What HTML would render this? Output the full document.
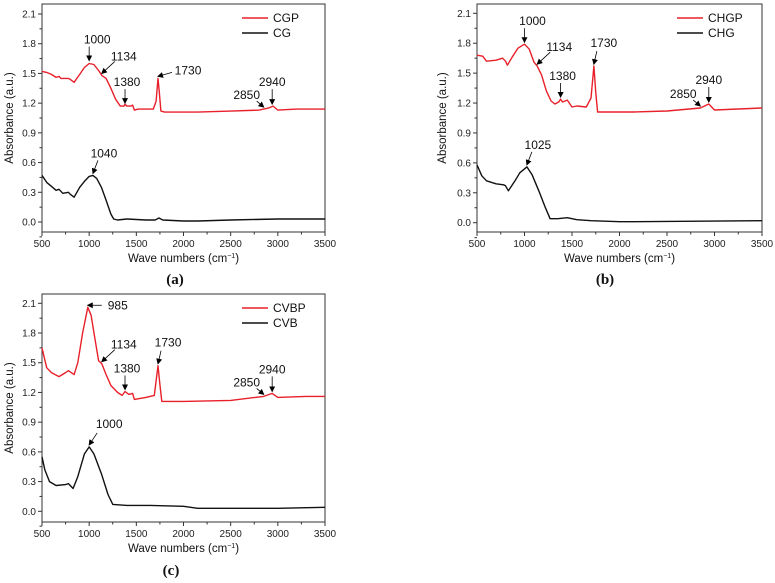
<!DOCTYPE html>
<html><head><meta charset="utf-8"><style>
body{margin:0;background:#fff;}
svg{display:block;font-family:"Liberation Sans",sans-serif;}
</style></head><body>
<svg id="chart" width="775" height="583" viewBox="0 0 775 583"></svg>
<script>
const xTicks=[500,1000,1500,2000,2500,3000,3500];
const yTicks=[0.0,0.3,0.6,0.9,1.2,1.5,1.8,2.1];
const yTickLabels=["0.0","0.3","0.6","0.9","1.2","1.5","1.8","2.1"];
// Panel a
const cgpX=[500,550,600,650,680,700,780,800,840,900,950,1000,1050,1100,1134,1180,1230,1280,1330,1370,1380,1400,1440,1460,1480,1520,1600,1680,1710,1730,1745,1760,1800,2000,2150,2500,2800,2900,2950,3000,3200,3500];
const cgpY=[1.52,1.51,1.49,1.46,1.47,1.45,1.45,1.44,1.41,1.49,1.56,1.60,1.59,1.53,1.48,1.45,1.35,1.24,1.17,1.17,1.19,1.17,1.17,1.18,1.13,1.14,1.14,1.14,1.22,1.45,1.30,1.12,1.11,1.11,1.11,1.12,1.13,1.15,1.17,1.13,1.14,1.14];
const cgX=[500,550,600,650,680,720,780,800,840,900,950,1000,1040,1080,1130,1180,1230,1260,1300,1400,1600,1700,1740,1780,2000,2150,2500,3000,3500];
const cgY=[0.47,0.40,0.36,0.32,0.33,0.29,0.30,0.28,0.25,0.35,0.41,0.46,0.47,0.44,0.35,0.22,0.08,0.03,0.02,0.03,0.02,0.02,0.04,0.02,0.01,0.01,0.02,0.03,0.03];
// Panel b
const chgpX=[500,560,600,700,770,800,820,870,930,1000,1050,1100,1134,1180,1230,1280,1320,1360,1380,1400,1450,1500,1550,1650,1700,1730,1750,1770,1900,2150,2500,2850,2940,3000,3500];
const chgpY=[1.68,1.67,1.62,1.63,1.65,1.62,1.58,1.66,1.75,1.79,1.74,1.61,1.57,1.48,1.32,1.22,1.19,1.21,1.24,1.21,1.23,1.16,1.17,1.16,1.25,1.57,1.30,1.11,1.11,1.11,1.12,1.15,1.19,1.13,1.15];
const chgX=[500,550,600,700,780,800,830,900,950,1025,1080,1150,1220,1270,1350,1450,1550,1700,2000,2150,3500];
const chgY=[0.58,0.47,0.42,0.39,0.38,0.37,0.32,0.42,0.50,0.56,0.48,0.32,0.15,0.04,0.04,0.05,0.03,0.02,0.01,0.01,0.02];
// Panel c
const cvbpX=[500,550,600,680,750,780,840,880,930,985,1020,1060,1100,1134,1180,1230,1300,1350,1380,1420,1460,1480,1600,1690,1730,1750,1770,2000,2500,2850,2940,3000,3300,3500];
const cvbpY=[1.65,1.45,1.40,1.36,1.40,1.42,1.38,1.50,1.80,2.06,1.98,1.75,1.52,1.49,1.38,1.27,1.20,1.17,1.21,1.18,1.19,1.13,1.15,1.17,1.47,1.28,1.11,1.11,1.12,1.16,1.19,1.15,1.16,1.16];
const cvbX=[500,530,580,650,750,780,830,880,950,1000,1050,1130,1200,1250,1400,1650,2000,2150,3000,3500];
const cvbY=[0.55,0.42,0.30,0.26,0.27,0.28,0.23,0.35,0.58,0.65,0.58,0.38,0.17,0.07,0.06,0.06,0.05,0.03,0.03,0.04];

const NS="http://www.w3.org/2000/svg";
const svg=document.getElementById('chart');
function mk(tag,attrs,parent){const e=document.createElementNS(NS,tag);for(const k in attrs)e.setAttribute(k,attrs[k]);(parent||svg).appendChild(e);return e;}
const defs=mk('defs',{});
const mrk=mk('marker',{id:'ah',markerWidth:'6',markerHeight:'6',refX:'5',refY:'3',orient:'auto',markerUnits:'userSpaceOnUse'},defs);
mk('path',{d:'M0,0 L6,3 L0,6 z',fill:'#000'},mrk);

const panels=[
 {id:'a',L:42,R:325,T:4,B:232,y0:222,y21:14,xt:262,cap:[175,284],yl:10,
  s:[{n:'CGP',c:'#e8202a',x:cgpX,y:cgpY},{n:'CG',c:'#111',x:cgX,y:cgY}],
  ann:[['1000',1000,1.61,8,-21,0,-14],['1134',1134,1.48,22,-17,13,-12],['1380',1380,1.18,2,-21,0,-14],['1730',1730,1.45,30,-6,14,-4],['2850',2850,1.14,-17,-12,-7,-6],['2940',2940,1.17,0,-22,0,-15],['1040',1040,0.47,11,-20,5,-13]]},
 {id:'b',L:477,R:762,T:4,B:232,y0:222.7,y21:13.3,xt:262,cap:[605,284],yl:443,
  s:[{n:'CHGP',c:'#e8202a',x:chgpX,y:chgpY},{n:'CHG',c:'#111',x:chgX,y:chgY}],
  ann:[['1000',1000,1.79,8,-21,0,-14],['1134',1134,1.57,22,-17,13,-12],['1380',1380,1.24,2,-21,0,-14],['1730',1730,1.57,10,-21,3,-13],['2850',2850,1.15,-17,-12,-7,-6],['2940',2940,1.19,0,-22,0,-15],['1025',1025,0.56,11,-20,5,-13]]},
 {id:'c',L:42,R:325,T:294,B:522,y0:511.3,y21:303.3,xt:552,cap:[171,575],yl:10,
  s:[{n:'CVBP',c:'#e8202a',x:cvbpX,y:cvbpY},{n:'CVB',c:'#111',x:cvbX,y:cvbY}],
  ann:[['985',985,2.06,30,0,14,0],['1134',1134,1.49,22,-17,13,-12],['1380',1380,1.21,2,-21,0,-14],['1730',1730,1.47,10,-21,3,-13],['2850',2850,1.16,-17,-12,-7,-6],['2940',2940,1.19,0,-22,0,-15],['1000',1000,0.65,20,-21,8,-12]]}
];

panels.forEach(p=>{
 const g=mk('g',{});
 
 
 const X=v=>p.L+(v-500)/3000*(p.R-p.L);
 const Y=v=>p.y0-v/2.1*(p.y0-p.y21);
 const fr=mk('rect',{x:p.L,y:p.T,width:p.R-p.L,height:p.B-p.T,fill:'none',stroke:'#333','stroke-width':'1'},g);
 
 
 xTicks.forEach((t,i)=>{
  const x=X(t);
  mk('line',{x1:x,x2:x,y1:p.B,y2:p.B+4,stroke:'#333'},g);
  if(i<xTicks.length-1){const xm=X(t+250);mk('line',{x1:xm,x2:xm,y1:p.B,y2:p.B+2.5,stroke:'#333'},g);}
  const tl=mk('text',{x:x,y:p.B+15,'font-size':'10','text-anchor':'middle',fill:'#222'},g);
  tl.textContent=t;
  
  
 });
 yTicks.forEach((t,i)=>{
  const y=Y(t);
  mk('line',{x1:p.L-4,x2:p.L,y1:y,y2:y,stroke:'#333'},g);
  const ym=Y(t+0.15);if(ym>p.T)mk('line',{x1:p.L-2.5,x2:p.L,y1:ym,y2:ym,stroke:'#333'},g);
  const tl=mk('text',{x:p.L-6,y:y+3.5,'font-size':'10','text-anchor':'end',fill:'#222'},g);
  tl.textContent=yTickLabels[i];
  
  
 });
 const ym0=Y(-0.15);mk('line',{x1:p.L-2.5,x2:p.L,y1:ym0,y2:ym0,stroke:'#333'},g);
 const xt=mk('text',{x:(p.L+p.R)/2,y:p.xt,'font-size':'11.5','text-anchor':'middle',fill:'#111'},g);
 xt.innerHTML='Wave numbers (cm<tspan dy="-4" font-size="7">−1</tspan><tspan dy="4">)</tspan>';
 
 
 const yc=(p.T+p.B)/2;
 const yt=mk('text',{x:p.yl,y:yc,'font-size':'11.5','text-anchor':'middle',fill:'#111',transform:`rotate(-90 ${p.yl} ${yc})`,'dominant-baseline':'middle'},g);
 yt.textContent='Absorbance (a.u.)';
 
 
 p.s.forEach((s,si)=>{
  const d=s.x.map((v,i)=>(i?'L':'M')+X(v).toFixed(1)+','+Y(s.y[i]).toFixed(1)).join(' ');
  const pa=mk('path',{d:d,fill:'none',stroke:s.c,'stroke-width':'1.4','stroke-linejoin':'round'},g);
  
  
  const ly=p.T+14+si*15, lx=p.L+200;
  mk('line',{x1:lx,x2:lx+26,y1:ly,y2:ly,stroke:s.c,'stroke-width':'1.5'},g);
  const lt=mk('text',{x:lx+31,y:ly+4,'font-size':'12',fill:'#111'},g);
  lt.textContent=s.n;
  
  
 });
 p.ann.forEach(a=>{
  const tx=X(a[1]),ty=Y(a[2])-2;
  mk('line',{x1:tx+a[5],y1:ty+a[6],x2:tx,y2:ty,stroke:'#000','stroke-width':'0.8','marker-end':'url(#ah)'},g);
  const at=mk('text',{x:tx+a[3],y:ty+a[4]+4,'font-size':'12','text-anchor':'middle',fill:'#111'},g);
  at.textContent=a[0];
  
  
 });
 const cp=mk('text',{x:p.cap[0],y:p.cap[1],'font-size':'15','font-weight':'bold','text-anchor':'middle',fill:'#111','font-family':'Liberation Serif, serif'},g);
 cp.textContent='('+p.id+')';
 
 
});
</script>
</body></html>
